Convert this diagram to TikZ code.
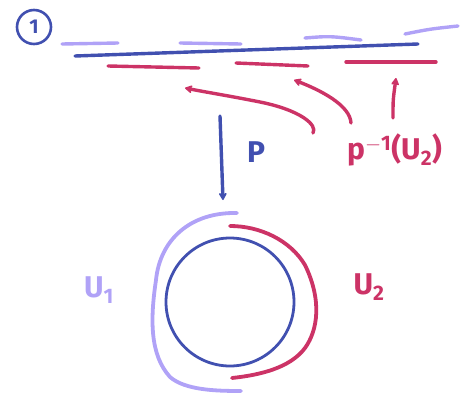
\documentclass[tikz,border=0pt]{standalone}
\usepackage{fontspec}
\setmainfont{Fira Sans}
\usetikzlibrary{arrows.meta}
\definecolor{dblue}{HTML}{4150B0}
\definecolor{lav}{HTML}{B0A2F7}
\definecolor{pink}{HTML}{CC3366}
\begin{document}
\begin{tikzpicture}[x=1pt,y=-1pt,line cap=round,line join=round,
  bluepen/.style={draw=dblue,line width=3.4pt},
  lavpen/.style={draw=lav,line width=3.4pt},
  pinkpen/.style={draw=pink,line width=3.4pt},
  harrow/.style={-{Stealth[length=9pt,width=10pt,round]}},
  lbl/.style={font=\fontsize{30}{30}\selectfont\bfseries,inner sep=0pt}]
\useasboundingbox (0,0) rectangle (469,394);
% number badge
\node[circle,draw=dblue,line width=2.6pt,minimum size=34pt,inner sep=0pt,text=dblue,font=\fontsize{20}{20}\selectfont\bfseries] (num) at (34,27) {1};
% top line (covering space)
\coordinate (la) at (75,56);
\coordinate (lb) at (418,44);
\draw[bluepen] (la) -- (lb);
% lavender segments
\draw[lavpen] (62,44) -- (118,43);
\draw[lavpen] (180,43) -- (241,44);
\draw[lavpen] (305,38) .. controls (330,36) .. (361,40);
\draw[lavpen] (405,34) .. controls (430,29) .. (458,26);
% pink segments
\draw[pinkpen] (108,66) -- (199,68);
\draw[pinkpen] (236,63) -- (308,66);
\draw[pinkpen] (346,62) -- (436,62);
% label p^{-1}(U2)
\node[lbl,text=pink,anchor=west] (pre) at (347,150) {p$^{\mathbf{-1}}$(U$_{\mathbf{2}}$)};
% pink arrows
\coordinate (s1) at (313,133);
\coordinate (e1) at (185,88);
\draw[pinkpen,harrow] (s1) .. controls (318,125) and (300,110) .. (260,102) .. controls (230,96) and (205,92) .. (e1);
\coordinate (s2) at (351,123);
\coordinate (e2) at (294,80);
\draw[pinkpen,harrow] (s2) .. controls (350,105) and (320,90) .. (e2);
\coordinate (s3) at (393,118);
\coordinate (e3) at (396,78);
\draw[pinkpen,harrow] (s3) .. controls (393,100) .. (e3);
% projection arrow
\coordinate (pa) at (220,116);
\coordinate (pb) at (223,200);
\draw[bluepen,harrow] (pa) -- (pb);
\node[lbl,text=dblue] (P) at (256,152) {P};
% base circle
\node[circle,draw=dblue,line width=2.8pt,minimum size=128pt,inner sep=0pt] (base) at (230,302) {};
% U1 arc
\draw[lavpen,line width=3.8pt] (237,213) .. controls (190,212) and (160,240) .. (156,280)
  .. controls (150,320) and (150,355) .. (170,377) .. controls (185,390) and (215,391) .. (241,391);
% U2 arc
\draw[pinkpen,line width=3.8pt] (230,226) .. controls (260,226) and (290,240) .. (305,265)
  .. controls (322,300) and (318,330) .. (305,348) .. controls (290,368) and (260,375) .. (232,378);
% labels
\node[lbl,text=lav] (U1) at (99,290) {U$_{\mathbf{1}}$};
\node[lbl,text=pink] (U2) at (369,287) {U$_{\mathbf{2}}$};
\end{tikzpicture}
\end{document}
